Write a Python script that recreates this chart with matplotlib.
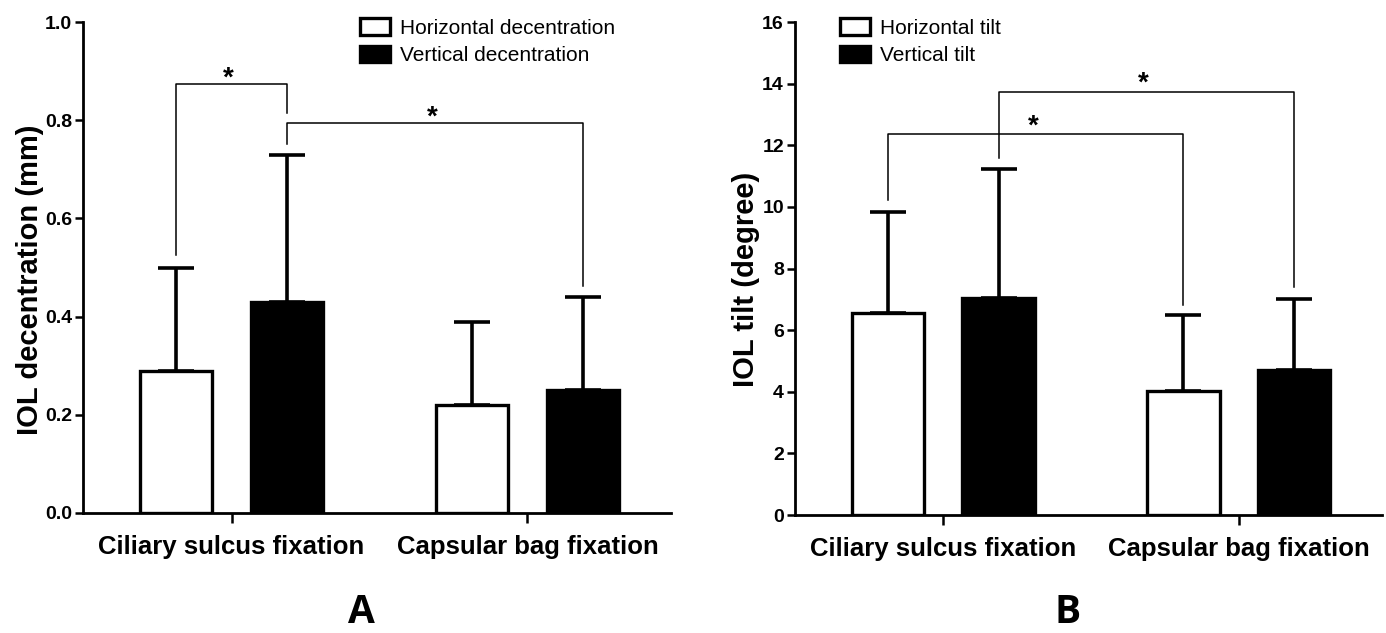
import numpy as np
import matplotlib
matplotlib.use('Agg')
import matplotlib.pyplot as plt

groups = ['Ciliary sulcus fixation', 'Capsular bag fixation']

# panel A: decentration (mm), mean and upper SD
dec_h = [0.29, 0.22]
dec_h_sd = [0.21, 0.17]
dec_v = [0.43, 0.25]
dec_v_sd = [0.30, 0.19]

# panel B: tilt (degree)
tilt_h = [6.55, 4.02]
tilt_h_sd = [3.27, 2.48]
tilt_v = [7.05, 4.72]
tilt_v_sd = [4.17, 2.28]

plt.rcParams['font.family'] = ['Liberation Sans', 'DejaVu Sans']

fig = plt.figure(figsize=(13.86, 6.33), dpi=100)
axA = fig.add_axes([0.0599, 0.1896, 0.4242, 0.7756])
axB = fig.add_axes([0.5736, 0.1864, 0.4235, 0.7788])

off = 0.187
w = 0.245
x = np.arange(len(groups))


def panel(ax, h, hsd, v, vsd, ylim, yticks, fmt, ylabel, labels, legpos):
    ax.bar(x - off, h, w, color='white', edgecolor='black', linewidth=2.4,
           label=labels[0], zorder=2)
    ax.bar(x + off, v, w, color='black', edgecolor='black', linewidth=2.4,
           label=labels[1], zorder=2)
    ax.errorbar(x - off, h, yerr=[np.zeros(2), hsd], fmt='none', ecolor='black',
                elinewidth=2.6, capsize=13, capthick=2.6, zorder=1)
    ax.errorbar(x + off, v, yerr=[np.zeros(2), vsd], fmt='none', ecolor='black',
                elinewidth=2.6, capsize=13, capthick=2.6, zorder=1)
    ax.set_ylim(*ylim)
    ax.set_xlim(-0.502, 1.485)
    ax.set_yticks(yticks)
    ax.set_yticklabels([fmt.format(t) for t in yticks], fontsize=14,
                       fontweight='bold')
    ax.set_xticks(x)
    ax.set_xticklabels(groups, fontsize=18.5, fontweight='bold')
    for s in ['top', 'right']:
        ax.spines[s].set_visible(False)
    for s in ['left', 'bottom']:
        ax.spines[s].set_linewidth(2.0)
    ax.tick_params(axis='y', direction='out', length=6, width=1.8, pad=2)
    ax.tick_params(axis='x', direction='out', length=7, width=1.8, pad=9)
    ax.set_ylabel(ylabel, fontsize=21, fontweight='bold')
    ax.yaxis.set_label_coords(-0.066, 0.475)
    ax.legend(loc='upper left', bbox_to_anchor=legpos, frameon=False,
              prop={'size': 15},
              handlelength=1.45, handleheight=0.85, handletextpad=0.45,
              labelspacing=0.38, borderpad=0, borderaxespad=0)


def bracket(ax, x0, x1, y, y0, y1, star_y):
    ax.plot([x0, x0, x1, x1], [y0, y, y, y1], color='black', lw=1.1, zorder=3)
    ax.text((x0 + x1) / 2 - 0.01, star_y, '*', ha='center', va='center',
            fontsize=20, fontweight='bold')


panel(axA, dec_h, dec_h_sd, dec_v, dec_v_sd, (0, 1.0),
      [0.0, 0.2, 0.4, 0.6, 0.8, 1.0], '{:.1f}', 'IOL decentration (mm)',
      ['Horizontal decentration', 'Vertical decentration'], (0.471, 1.008))
panel(axB, tilt_h, tilt_h_sd, tilt_v, tilt_v_sd, (0, 16),
      [0, 2, 4, 6, 8, 10, 12, 14, 16], '{:d}', 'IOL tilt (degree)',
      ['Horizontal tilt', 'Vertical tilt'], (0.077, 1.008))
axB.yaxis.set_label_coords(-0.060, 0.477)

bracket(axA, -off, off, 0.874, 0.525, 0.815, 0.885)
bracket(axA, off, 1 + off, 0.794, 0.752, 0.462, 0.805)

bracket(axB, -off, 1 - off, 12.37, 10.22, 6.82, 12.62)
bracket(axB, off, 1 + off, 13.73, 11.59, 7.4, 14.0)

fig.text(0.2605, 0.032, 'A', ha='center', va='center', fontsize=28,
         fontweight='bold', family=['Open Sans', 'DejaVu Sans'])
fig.text(0.770, 0.032, 'B', ha='center', va='center', fontsize=28,
         fontweight='bold', family=['Open Sans', 'DejaVu Sans'])

fig.savefig('out.png', dpi=100)
